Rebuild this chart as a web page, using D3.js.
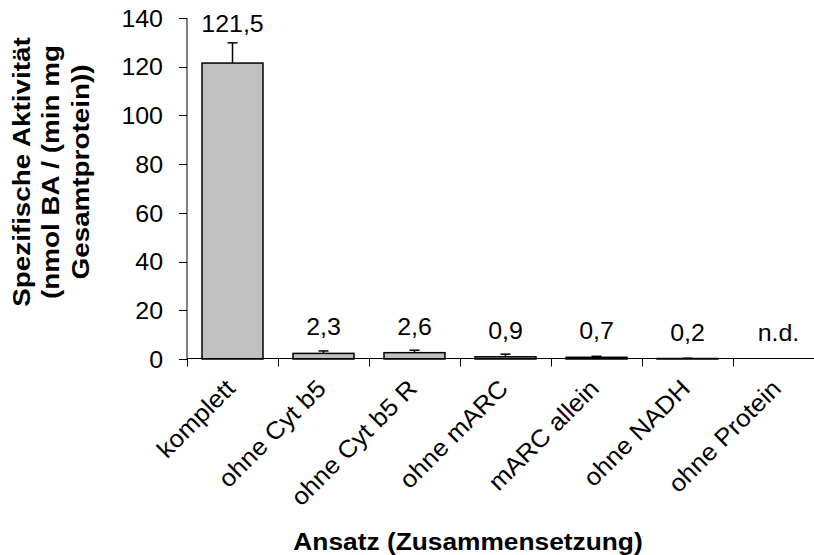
<!DOCTYPE html>
<html>
<head>
<meta charset="utf-8">
<script src="https://cdn.jsdelivr.net/npm/d3@7"></script>
<style>
  html, body { margin: 0; padding: 0; background: #fff; }
  svg { display: block; font-family: "Liberation Sans", Arial, sans-serif; }
</style>
</head>
<body>
<svg id="chart" width="814" height="555"></svg>
<script>
// Spezifische Aktivität je Ansatz (Zusammensetzung)
const categories  = ["komplett", "ohne Cyt b5", "ohne Cyt b5 R", "ohne mARC", "mARC allein", "ohne NADH", "ohne Protein"];
const values      = [121.5, 2.3, 2.6, 0.9, 0.7, 0.2, null];
const errors      = [8.3, 1.0, 1.0, 1.1, 0.4, 0.1, null];
const valueLabels = ["121,5", "2,3", "2,6", "0,9", "0,7", "0,2", "n.d."];
const yTicks      = [0, 20, 40, 60, 80, 100, 120, 140];
const yTitle      = ["Spezifische Aktivität", "(nmol BA / (min mg", "Gesamtprotein))"];
const xTitle      = "Ansatz (Zusammensetzung)";

const svg = d3.select("#chart");

// plot frame; the category axis runs past the right edge like in the original
const x = d3.scaleBand()
  .domain(categories)
  .range([187, 824])
  .paddingInner(0.33)
  .paddingOuter(0.165);

const y = d3.scaleLinear()
  .domain([0, 140])
  .range([359, 18]);

// the reference glyphs run a little wider than Arial, so widen them
// along the text direction: transform = translate, rotate, then scale x
function place(sel, tx, ty, rot, k) {
  sel.attr("transform", (d, i) =>
    `translate(${tx(d, i)},${ty(d, i)}) rotate(${rot}) scale(${k},1)`);
}

const data = categories.map((c, i) => ({ c, v: values[i], e: errors[i], label: valueLabels[i] }));
const bars = data.filter(d => d.v != null);
const cx = d => x(d.c) + x.bandwidth() / 2;

// bars
svg.append("g").selectAll("rect")
  .data(bars)
  .join("rect")
  .attr("x", d => x(d.c))
  .attr("y", d => y(d.v))
  .attr("width", x.bandwidth())
  .attr("height", d => y(0) - y(d.v))
  .attr("fill", "#c0c0c0")
  .attr("stroke", "#000")
  .attr("stroke-width", 1.5);

// upper error bars
const eb = svg.append("g").attr("stroke", "#000").attr("stroke-width", 1.5);
bars.forEach(d => {
  const top = y(d.v + d.e);
  eb.append("line").attr("x1", cx(d)).attr("x2", cx(d)).attr("y1", y(d.v)).attr("y2", top);
  eb.append("line").attr("x1", cx(d) - 5).attr("x2", cx(d) + 5).attr("y1", top).attr("y2", top);
});

// value labels
svg.append("g").selectAll("text")
  .data(data)
  .join("text")
  .attr("text-anchor", "middle")
  .attr("font-size", 24)
  .text(d => d.label)
  .call(place, cx, d => {
    const v = d.v == null ? 0 : d.v;
    const e = d.e == null ? 0 : d.e;
    return Math.min(y(v) - 18, y(v + e) - 11);
  }, 0, 1.04);

// y axis
const yAxis = svg.append("g");
yAxis.append("line")
  .attr("x1", 187).attr("x2", 187)
  .attr("y1", y(0)).attr("y2", y(140))
  .attr("stroke", "#000");
yAxis.selectAll("line.tick")
  .data(yTicks)
  .join("line")
  .attr("class", "tick")
  .attr("x1", 179).attr("x2", 187)
  .attr("y1", d => Math.round(y(d)) + 0.5)
  .attr("y2", d => Math.round(y(d)) + 0.5)
  .attr("stroke", "#000");
yAxis.selectAll("text")
  .data(yTicks)
  .join("text")
  .attr("dy", "0.36em")
  .attr("text-anchor", "end")
  .attr("font-size", 24)
  .text(d => d)
  .call(place, () => 163, d => y(d), 0, 1.04);

// x axis
const xAxis = svg.append("g");
const yBase = Math.round(y(0)) - 0.5;
xAxis.append("line")
  .attr("x1", 187).attr("x2", 824)
  .attr("y1", yBase).attr("y2", yBase)
  .attr("stroke", "#000");
const bounds = categories.map(c => x(c) - x.step() * x.paddingInner() / 2);
bounds.push(824);
xAxis.selectAll("line.tick")
  .data(bounds)
  .join("line")
  .attr("class", "tick")
  .attr("x1", d => Math.round(d) + 0.5).attr("x2", d => Math.round(d) + 0.5)
  .attr("y1", yBase).attr("y2", yBase + 8)
  .attr("stroke", "#000");
xAxis.selectAll("text")
  .data(categories)
  .join("text")
  .attr("text-anchor", "end")
  .attr("font-size", 24.5)
  .text(c => c)
  .call(place, c => x(c) + x.bandwidth() / 2 + 4, () => 390, -45, 1.06);

// axis titles
svg.append("g")
  .attr("font-weight", "bold")
  .attr("font-size", 24)
  .selectAll("text")
  .data(yTitle)
  .join("text")
  .attr("text-anchor", "middle")
  .text(d => d)
  .call(place, (d, i) => 29.5 + i * 29.5, () => 172, -90, 1.16);

svg.append("text")
  .datum(xTitle)
  .attr("text-anchor", "middle")
  .attr("font-weight", "bold")
  .attr("font-size", 23.5)
  .text(d => d)
  .call(place, () => 468, () => 550, 0, 1.12);
</script>
</body>
</html>
